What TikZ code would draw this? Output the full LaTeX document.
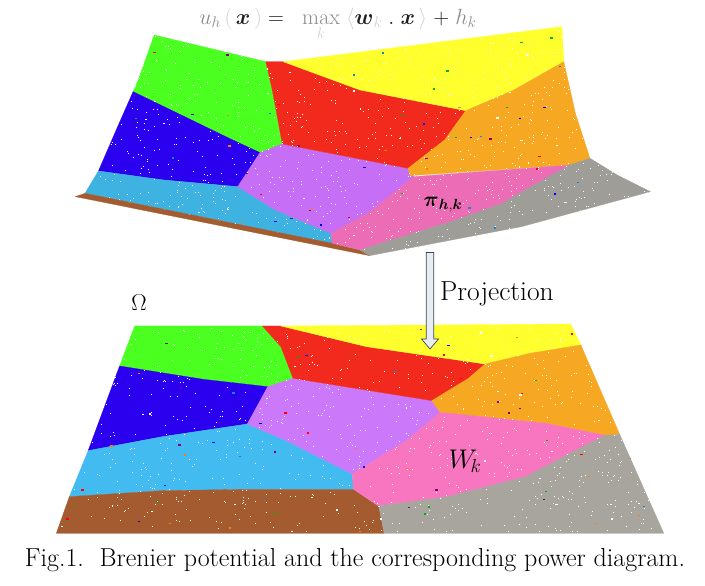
\RequirePackage{fix-cm}
\documentclass[tikz,border=0pt]{standalone}
\usepackage{amsmath}
\pgfmathdeclarerandomlist{speck}{{blue}{red}{green!70!black}{orange}{cyan!70!blue}{violet}{white}}
\definecolor{cgreen}{HTML}{4BFF20}
\definecolor{cblue}{HTML}{2A00EE}
\definecolor{clightA}{HTML}{3EB2E0}
\definecolor{clightB}{HTML}{42BCF0}
\definecolor{cred}{HTML}{F22A1E}
\definecolor{cyellow}{HTML}{FFFF2E}
\definecolor{corange}{HTML}{F6A823}
\definecolor{cpurpleA}{HTML}{C66EF5}
\definecolor{cpurpleB}{HTML}{CC78FA}
\definecolor{cpinkA}{HTML}{EC6CB6}
\definecolor{cpinkB}{HTML}{F876C0}
\definecolor{cgrayA}{HTML}{9E9D98}
\definecolor{cgrayB}{HTML}{A8A49E}
\definecolor{cbrown}{HTML}{A45B30}
\definecolor{arrowfill}{HTML}{E8EDF2}
\definecolor{arrowline}{HTML}{3A4656}
\definecolor{fa}{gray}{0.55}
\definecolor{fb}{gray}{0.82}
\definecolor{fk}{gray}{0.12}
\tikzset{
  cell/.style={fill=#1,draw=#1,line width=.3pt},
  lbl/.style={inner sep=0pt,text=black},
}
\newcommand{\specks}[6]{%
  \foreach \i in {1,...,#1}{%
    \pgfmathsetmacro{\px}{#2+rnd*(#3-#2)}%
    \pgfmathsetmacro{\py}{#4+rnd*(#5-#4)}%
    \fill[white] (\px,\py) rectangle ++(2.2,2.2);%
  }%
  \foreach \i in {1,...,#6}{%
    \pgfmathsetmacro{\px}{#2+rnd*(#3-#2)}%
    \pgfmathsetmacro{\py}{#4+rnd*(#5-#4)}%
    \pgfmathrandomitem{\cc}{speck}%
    \fill[\cc] (\px,\py) rectangle ++(6,4);%
  }%
}
\begin{document}
\begin{tikzpicture}[x=1pt,y=-1pt]
\useasboundingbox (0,0) rectangle (705,586);
\pgfmathsetseed{4711}
% upper surface
\begin{scope}[x=0.3846pt,y=-0.3333pt,shift={(60pt,0pt)}]
  \fill[cell=cgreen] (245,105)--(535,185)--(552,270)--(578,432)--(520,458)--(440,415)--(190,275)--(205,235)--cycle;
  \fill[cell=cblue] (190,275)--(440,415)--(520,458)--(462,560)--(270,540)--(100,513)--(148,385)--cycle;
  \fill[cell=clightA] (100,513)--(270,540)--(462,560)--(560,630)--(705,700)--(708,730)--(65,580)--(83,545)--cycle;
  \fill[cell=cbrown] (40,590)--(65,580)--(708,730)--(780,750)--(805,767)--cycle;
  \fill[cell=cpurpleA] (578,432)--(905,505)--(920,530)--(800,640)--(705,700)--(560,630)--(462,560)--(520,458)--cycle;
  \fill[cell=cred] (535,185)--(580,185)--(780,270)--(1055,332)--(1000,420)--(905,505)--(578,432)--(552,270)--cycle;
  \fill[cell=cyellow] (580,185)--(1305,80)--(1310,185)--(1180,270)--(1055,332)--(780,270)--cycle;
  \fill[cell=corange] (1055,332)--(1180,270)--(1310,185)--(1340,340)--(1378,475)--(1325,495)--(910,527)--(905,505)--(1000,420)--cycle;
  \fill[cell=cpinkA] (920,530)--(1325,495)--(1240,550)--(1150,610)--(1030,660)--(780,750)--(708,730)--(705,700)--(800,640)--cycle;
  \fill[cell=cgrayA] (1378,475)--(1450,526)--(1535,575)--(1200,680)--(805,767)--(780,750)--(1030,660)--(1150,610)--(1240,550)--(1325,495)--cycle;
  \begin{scope}
    \clip (245,105)--(535,185)--(580,185)--(1305,80)--(1310,185)--(1340,340)--(1378,475)--(1450,526)--(1535,575)--(1200,680)--(805,767)--(708,730)--(65,580)--(83,545)--(100,513)--(148,385)--(190,275)--(205,235)--cycle;
    \specks{1300}{60}{1530}{90}{760}{80}
  \end{scope}
\end{scope}
% lower diagram
\begin{scope}[x=0.4082pt,y=-0.3333pt,shift={(40pt,-250pt)}]
  \fill[cell=cgreen] (232,228)--(545,228)--(590,290)--(620,385)--(560,410)--(400,388)--(195,348)--cycle;
  \fill[cell=cblue] (195,348)--(400,388)--(558,410)--(508,522)--(300,560)--(118,602)--cycle;
  \fill[cell=clightB] (118,602)--(300,560)--(508,522)--(600,570)--(765,672)--(768,718)--(500,718)--(300,722)--(72,740)--cycle;
  \fill[cell=cbrown] (72,740)--(300,722)--(500,718)--(768,718)--(830,770)--(843,850)--(40,850)--cycle;
  \fill[cell=cpurpleB] (620,385)--(960,452)--(980,487)--(900,570)--(765,672)--(600,570)--(508,522)--(558,410)--cycle;
  \fill[cell=cred] (545,228)--(590,228)--(800,290)--(1090,342)--(1050,385)--(960,452)--(620,385)--(590,290)--cycle;
  \fill[cell=cyellow] (590,228)--(1300,222)--(1325,285)--(1200,310)--(1090,342)--(800,290)--cycle;
  \fill[cell=corange] (1090,342)--(1200,310)--(1325,285)--(1420,553)--(1385,556)--(1240,520)--(1000,490)--(980,487)--(960,452)--(1050,385)--cycle;
  \fill[cell=cpinkB] (980,487)--(1240,520)--(1385,556)--(1290,615)--(1190,680)--(1000,740)--(830,768)--(768,718)--(765,672)--(900,570)--cycle;
  \fill[cell=cgrayB] (1420,553)--(1528,850)--(843,850)--(830,768)--(1000,740)--(1190,680)--(1290,615)--(1385,556)--cycle;
  \begin{scope}
    \clip (232,228)--(1300,222)--(1528,850)--(40,850)--cycle;
    \specks{1000}{50}{1520}{235}{845}{80}
  \end{scope}
\end{scope}
% projection arrow
\coordinate (arrowtop) at (430,252.5);
\coordinate (arrowtip) at (430,349);
\fill[arrowfill,draw=arrowline,line width=.7pt,line join=miter]
  ([xshift=-3.8pt]arrowtop)--([xshift=3.8pt]arrowtop)--([xshift=3.8pt,yshift=10pt]arrowtip)
  --([xshift=8.5pt,yshift=10pt]arrowtip)--(arrowtip)--([xshift=-8.5pt,yshift=10pt]arrowtip)
  --([xshift=-3.8pt,yshift=10pt]arrowtip)--cycle;
% texts
\node[lbl,anchor=west] (proj) at (440,294) {\fontsize{27.5}{32}\selectfont Projection};
\node[lbl] (omega) at (139,303) {\fontsize{23}{28}\selectfont $\Omega$};
\node[lbl] (pi) at (443,205) {\fontsize{21}{25}\selectfont $\boldsymbol{\pi}_{\boldsymbol{h},\boldsymbol{k}}$};
\node[lbl] (wk) at (465,461) {\fontsize{27}{32}\selectfont $W_{\!k}$};
\node[lbl] (formula) at (338,24) {\fontsize{22}{26}\selectfont $\textcolor{fa}{u_h}\,\textcolor{fb}{(}\,\textcolor{fk}{\boldsymbol{x}}\,\textcolor{fb}{)}\;\textcolor{fk}{=}\;\;\;\textcolor{fa}{\max\limits_{\textcolor{fb}{k}}}\;\textcolor{fb}{\langle}\textcolor{fk}{\boldsymbol{w}}_{\textcolor{fb}{k}}\textcolor{fk}{\;.\;\boldsymbol{x}}\,\textcolor{fb}{\rangle}\;\textcolor{fk}{+}\;\textcolor{fa}{h_k}$};
\node[lbl] (caption) at (355,560) {\fontsize{26}{31}\selectfont Fig.1.\ \ Brenier potential and the corresponding power diagram.};
\end{tikzpicture}
\end{document}
